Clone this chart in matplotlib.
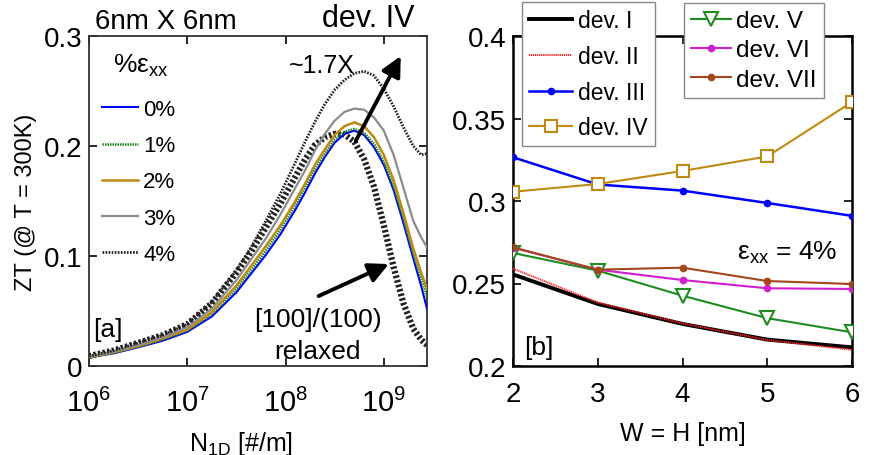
import numpy as np
import matplotlib
matplotlib.use("Agg")
import matplotlib.pyplot as plt
from matplotlib.ticker import FixedLocator, LogLocator, NullFormatter

plt.rcParams['font.family'] = ['Liberation Sans', 'DejaVu Sans']
plt.rcParams['mathtext.fontset'] = 'custom'
plt.rcParams['mathtext.rm'] = 'Liberation Sans'
plt.rcParams['mathtext.it'] = 'Liberation Sans:italic'
plt.rcParams['mathtext.bf'] = 'Liberation Sans:bold'

# ---------------- data: panel (a) ----------------
log10_n1d = [6.0, 6.25, 6.5, 6.75, 7.0, 7.25, 7.5, 7.65, 7.8, 7.95,
             8.1, 8.2, 8.3, 8.4, 8.5, 8.6, 8.7, 8.8, 8.9, 9.0,
             9.1, 9.2, 9.3, 9.38, 9.44]
zt_strain_0 = [.008, .0115, .017, .023, .031, .045, .067, .084, .101, .120,
               .142, .158, .175, .190, .203, .211, .214, .210, .199, .183,
               .160, .130, .098, .073, .052]
zt_strain_1 = [.008, .012, .0175, .024, .032, .047, .070, .087, .105, .124,
               .146, .162, .179, .193, .206, .213, .2155, .212, .202, .186,
               .163, .134, .102, .080, .0624]
zt_strain_2 = [.008, .0125, .018, .025, .033, .049, .073, .091, .109, .128,
               .150, .166, .183, .197, .210, .218, .2215, .218, .208, .192,
               .169, .139, .107, .085, .070]
zt_strain_3 = [.0085, .013, .019, .026, .035, .052, .078, .097, .116, .138,
               .162, .178, .196, .211, .223, .231, .234, .233, .226, .214,
               .192, .162, .132, .117, .108]
zt_strain_4 = [.009, .014, .021, .028, .038, .058, .087, .108, .132, .157,
               .185, .204, .222, .238, .251, .260, .266, .268, .264, .252,
               .236, .217, .200, .192, .193]
zt_relaxed = [.009, .014, .021, .028, .038, .057, .085, .104, .126, .148,
              .172, .188, .201, .208, .211, .2105, .204, .188, .163, .128,
              .090, .057, .034, .024, .019]
strain_labels = ['0%', '1%', '2%', '3%', '4%']

# ---------------- data: panel (b) ----------------
w_nm = [2, 3, 4, 5, 6]
dev_I = [0.2555, 0.2376, 0.2255, 0.2160, 0.2113]
dev_II = [0.2590, 0.2385, 0.2258, 0.2158, 0.2098]
dev_III = [0.3265, 0.3100, 0.3063, 0.2988, 0.2910]
dev_IV = [0.3056, 0.3103, 0.3182, 0.3270, 0.3600]
dev_V = [0.2685, 0.2578, 0.2426, 0.2290, 0.2204]
dev_VI = [0.2717, 0.2584, 0.2521, 0.2471, 0.2467]
dev_VII = [0.2719, 0.2584, 0.2596, 0.2515, 0.2497]

W, H = 869, 456
fig = plt.figure(figsize=(W / 100, H / 100), dpi=100)

def fx(x):
    return x / W

def fy(y):
    return 1 - y / H

ax1 = fig.add_axes([fx(89), fy(367), 338 / W, 330 / H])
ax2 = fig.add_axes([fx(513), fy(367), 339 / W, 330 / H])

# ---------------- panel (a) ----------------
n1d = 10 ** np.array(log10_n1d)
c_gold = '#c08a12'
ax1.plot(n1d, zt_relaxed, color='#222222', lw=4.5, ls=(0, (0.4, 0.35)), zorder=2)
l0, = ax1.plot(n1d, zt_strain_0, color='#0000ff', lw=1.5, zorder=3)
l1, = ax1.plot(n1d, zt_strain_1, color='#1a8a1a', lw=1.8, ls=(0, (0.6, 0.4)), zorder=3)
l2, = ax1.plot(n1d, zt_strain_2, color=c_gold, lw=1.8, zorder=3)
l3, = ax1.plot(n1d, zt_strain_3, color='#8c8c8c', lw=1.6, zorder=3)
l4, = ax1.plot(n1d, zt_strain_4, color='#222222', lw=2.0, ls=(0, (0.6, 0.5)), zorder=3)

ax1.set_xscale('log')
ax1.set_xlim(1e6, 10 ** 9.44)
ax1.set_ylim(0, 0.3)
ax1.set_yticks([0, 0.1, 0.2, 0.3])
ax1.set_yticklabels(['0', '0.1', '0.2', '0.3'])
ax1.xaxis.set_major_locator(FixedLocator([1e6, 1e7, 1e8, 1e9]))
ax1.xaxis.set_minor_locator(LogLocator(base=10, subs=np.arange(2, 10)))
ax1.xaxis.set_minor_formatter(NullFormatter())
ax1.set_xticklabels([r'$10^{6}$', r'$10^{7}$', r'$10^{8}$', r'$10^{9}$'])

fig.text(fx(141), fy(66), r'%$\mathregular{ε_{xx}}$', fontsize=19, ha='center', va='center')
leg1 = ax1.legend([l0, l1, l2, l3, l4], strain_labels,
                  loc='upper left', bbox_to_anchor=(fx(100), fy(98)),
                  bbox_transform=fig.transFigure, frameon=False, fontsize=16,
                  handlelength=1.6, handletextpad=0.25,
                  labelspacing=0.68, borderpad=0.1, borderaxespad=0)

ax1.set_ylabel('ZT (@ T = 300K)', fontsize=17)
ax1.yaxis.set_label_coords(-0.154, 0.5)
ax1.set_xlabel(r'N$_{\mathregular{1D}}$ [#/m]', fontsize=18)
ax1.xaxis.set_label_coords(0.45, -0.19)

ax1.annotate('', xy=(10 ** 9.173, 0.2818), xytext=(10 ** 8.714, 0.2045),
             arrowprops=dict(arrowstyle='-|>', lw=2.8, mutation_scale=30, color='k',
                             shrinkA=0, shrinkB=0))
ax1.annotate('', xy=(10 ** 9.051, 0.0927), xytext=(10 ** 8.337, 0.0636),
             arrowprops=dict(arrowstyle='-|>', lw=2.8, mutation_scale=30, color='k',
                             shrinkA=0, shrinkB=0))

fig.text(fx(322), fy(66), '~1.7X', fontsize=18, ha='center', va='center')
fig.text(fx(318), fy(320), '[100]/(100)', fontsize=19, ha='center', va='center')
fig.text(fx(318), fy(352), 'relaxed', fontsize=19, ha='center', va='center')
fig.text(fx(108), fy(330), '[a]', fontsize=19, ha='center', va='center')
fig.text(fx(166), fy(22), '6nm X 6nm', fontsize=20, ha='center', va='center')
fig.text(fx(368), fy(19), 'dev. IV', fontsize=22, ha='center', va='center')

# ---------------- panel (b) ----------------
c_brown = '#a3461a'
c_green = '#1e8c1e'
c_mag = '#d21ed2'
h1, = ax2.plot(w_nm, dev_I, color='k', lw=2.8, zorder=3)
h2, = ax2.plot(w_nm, dev_II, color='#ff2020', lw=1.4, ls=(0, (0.6, 0.4)), zorder=4)
h3, = ax2.plot(w_nm, dev_III, color='#0000ff', lw=1.8, marker='o', ms=4.5, zorder=3)
h4, = ax2.plot(w_nm, dev_IV, color=c_gold, lw=1.5, marker='s', ms=9, mfc='white',
               mec=c_gold, mew=1.5, zorder=3)
h5, = ax2.plot(w_nm, dev_V, color=c_green, lw=1.5, marker='v', ms=10, mfc='white',
               mec=c_green, mew=1.5, zorder=3)
h6, = ax2.plot(w_nm, dev_VI, color=c_mag, lw=1.5, marker='o', ms=4.5, zorder=3)
h7, = ax2.plot(w_nm, dev_VII, color=c_brown, lw=1.5, marker='o', ms=4.5, zorder=3)

ax2.set_xlim(2, 6)
ax2.set_ylim(0.2, 0.4)
ax2.set_xticks([2, 3, 4, 5, 6])
ax2.set_yticks([0.2, 0.25, 0.3, 0.35, 0.4])
ax2.set_yticklabels(['0.2', '0.25', '0.3', '0.35', '0.4'])
ax2.set_xlabel('W = H [nm]', fontsize=18)
ax2.xaxis.set_label_coords(0.5, -0.168)

fig.text(fx(539), fy(348), '[b]', fontsize=19, ha='center', va='center')
fig.text(fx(787), fy(253), r'$\mathregular{ε_{xx}}$ = 4%', fontsize=19, ha='center', va='center')

legA = fig.legend([h1, h2, h3, h4], ['dev. I', 'dev. II', 'dev. III', 'dev. IV'],
                  loc='lower left', bbox_to_anchor=(fx(522), fy(147)),
                  fontsize=16.5, handlelength=1.9, handletextpad=0.25, labelspacing=0.55,
                  borderpad=0.3, borderaxespad=0, fancybox=False, framealpha=1,
                  edgecolor='#888888')
legB = fig.legend([h5, h6, h7], ['dev. V', 'dev. VI', 'dev. VII'],
                  loc='lower left', bbox_to_anchor=(fx(684), fy(99)),
                  fontsize=17.5, handlelength=1.65, handletextpad=0.2, labelspacing=0.3,
                  borderpad=0.3, borderaxespad=0, fancybox=False, framealpha=1,
                  edgecolor='#888888')
for lg in (legA, legB):
    lg.get_frame().set_linewidth(1.0)

for ax in (ax1, ax2):
    ax.tick_params(which='both', direction='in', top=True, right=True, labelsize=20)
    ax.tick_params(which='major', length=6, width=1.2)
    ax.tick_params(which='minor', length=3, width=0.8)
    ax.tick_params(axis='y', pad=5)
ax1.tick_params(axis='x', pad=16, labelsize=21)
ax2.tick_params(axis='x', pad=11)
for sp in ax1.spines.values():
    sp.set_linewidth(1.3)
    sp.set_color('#333333')
for sp in ax2.spines.values():
    sp.set_linewidth(1.8)

fig.savefig('out.png', dpi=100)
